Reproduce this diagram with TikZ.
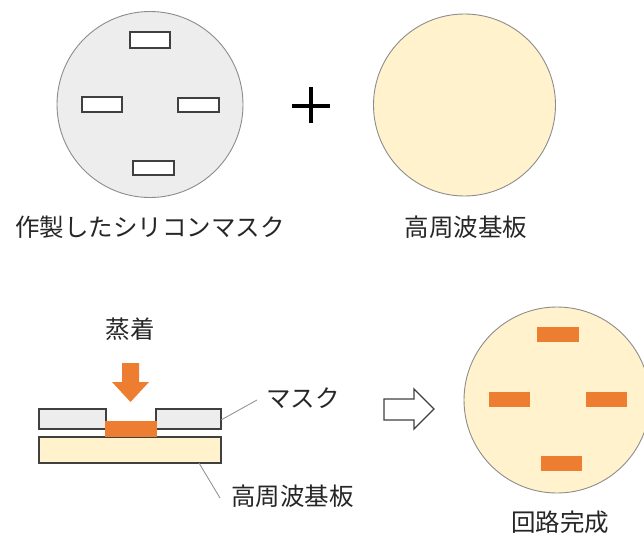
\documentclass[tikz,border=0pt]{standalone}
\usepackage{fontspec}
\newfontfamily\cjk{Noto Sans CJK JP}
\definecolor{maskgray}{HTML}{EDEDED}
\definecolor{subyel}{HTML}{FFF2CC}
\definecolor{orng}{HTML}{ED7D31}
\definecolor{edge}{HTML}{404040}
\definecolor{thin}{HTML}{8C8C8C}
\definecolor{txt}{HTML}{262626}
\begin{document}
\begin{tikzpicture}[x=1pt,y=-1pt,
  lbl/.style={font=\cjk\fontsize{24.5}{28}\selectfont, text=txt, inner sep=0pt},
  disc/.style={circle, draw=thin, line width=0.9pt, minimum size=186pt, inner sep=0pt},
  hole/.style={draw=edge, fill=white, line width=1.4pt},
  pad/.style={fill=orng, draw=none},
  layer/.style={draw=edge, line width=1.4pt},
  leader/.style={draw=thin, line width=0.8pt}]
\useasboundingbox (0,0) rectangle (644,538);
% top-left mask
\node[disc, fill=maskgray] (mask) at (150,104.5) {};
\draw[hole] (130,32) rectangle (170,48);
\draw[hole] (82,97) rectangle (122,112);
\draw[hole] (178,98) rectangle (219,112);
\draw[hole] (133,161) rectangle (174,175);
\node[lbl] (masklbl) at (150,227) {作製したシリコンマスク};
% plus
\node (plus) at (311,105) {};
\draw[line width=4pt, black] (311,87) -- (311,123) (292,106) -- (330,106);
% top-right substrate
\node[disc, fill=subyel, minimum size=182pt] (sub) at (464.5,105) {};
\node[lbl] (sublbl) at (466,227) {高周波基板};
% cross-section
\node[lbl] (evap) at (130,329) {蒸着};
\fill[orng] (122,363) -- (139,363) -- (139,382) -- (149,382) -- (130.5,402) -- (112,382) -- (122,382) -- cycle;
\draw[layer, fill=subyel] (39,437) rectangle (221,463);
\draw[layer, fill=maskgray] (39,409) rectangle (106,429);
\draw[layer, fill=maskgray] (156,409) rectangle (221,429);
\fill[orng] (105,421) rectangle (157,437);
\coordinate (mref) at (221,420);
\coordinate (sref) at (199,463);
\node[lbl, anchor=west] (masktxt) at (266,398) {マスク};
\node[lbl, anchor=west] (subtxt) at (231,496) {高周波基板};
\draw[leader] (mref) -- (257,400);
\draw[leader] (sref) -- (220,498);
% hollow arrow
\draw[edge, line width=1.3pt, fill=white, line join=miter]
  (384,399) -- (414,399) -- (414,389) -- (434,409) -- (414,429) -- (414,420) -- (384,420) -- cycle;
% result
\node[disc, fill=subyel] (res) at (557,400) {};
\fill[orng] (537,327) rectangle (579,342);
\fill[orng] (489,392) rectangle (530,407);
\fill[orng] (586,392) rectangle (627,407);
\fill[orng] (541,456) rectangle (582,471);
\node[lbl] (reslbl) at (560,522) {回路完成};
\end{tikzpicture}
\end{document}
